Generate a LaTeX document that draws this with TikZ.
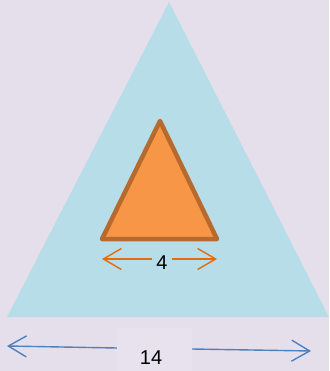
\documentclass[tikz,border=0pt]{standalone}
\usepackage{fontspec}
\setmainfont{Liberation Sans}
\usetikzlibrary{arrows.meta,positioning}
\definecolor{bgpurple}{RGB}{229,223,236}
\definecolor{lightblue}{RGB}{183,221,232}
\definecolor{orangefill}{RGB}{247,150,70}
\definecolor{orangeline}{RGB}{182,106,46}
\definecolor{orangearrow}{RGB}{228,108,10}
\definecolor{bluearrow}{RGB}{79,129,189}
\definecolor{labelbg}{RGB}{231,226,238}
\tikzset{
  barb/.style={-{Straight Barb[length=18pt,width=21pt]},line width=1.4pt},
  dimlabel/.style={font=\fontsize{20}{22}\selectfont,inner sep=1pt},
}
\begin{document}
\begin{tikzpicture}[x=1pt,y=-1pt]
\useasboundingbox[fill=bgpurple] (0,0) rectangle (329,371);
% big triangle
\fill[lightblue] (7,317) -- (169,2) -- (329,317) -- cycle;
% small triangle
\draw[orangeline,fill=orangefill,line width=4.5pt,line join=round] (102,239) -- (160,121) -- (217,239) -- cycle;
% small base dimension
\node[dimlabel] (four) at (162,263) {4};
\coordinate (fourL) at (102,259);
\coordinate (fourR) at (217,259);
\draw[barb,orangearrow] (four.west|-fourL) ++(-3,0) -- (fourL);
\draw[barb,orangearrow] (four.east|-fourR) ++(3,0) -- (fourR);
% big base dimension
\node[fill=labelbg,inner sep=0pt,minimum width=75pt,minimum height=43pt] (fourteen) at (154.5,349.5) {};
\node[dimlabel] (fourteentext) at (151,358) {14};
\coordinate (ftL) at (7,346);
\coordinate (ftR) at (311,351);
\draw[barb,bluearrow] (fourteen.west|-0,348) -- (ftL);
\draw[barb,bluearrow] (fourteen.east|-0,349) -- (ftR);
\end{tikzpicture}
\end{document}
